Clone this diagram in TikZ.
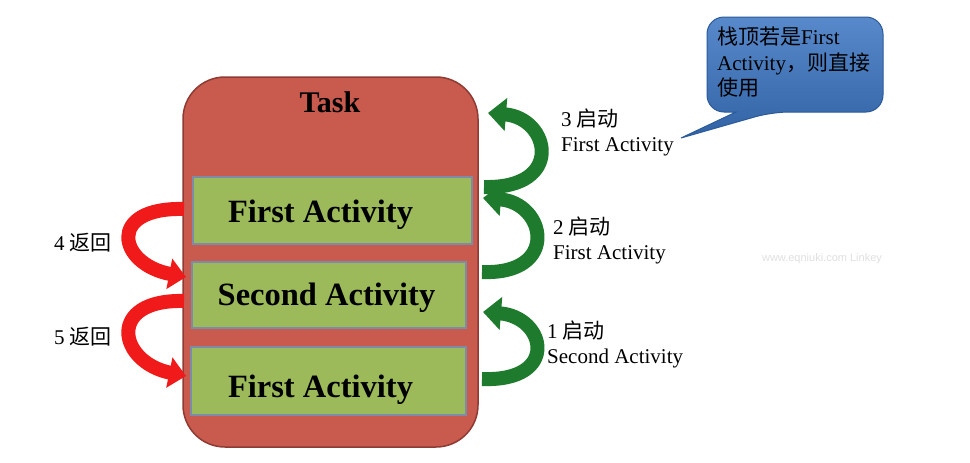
\documentclass[tikz,border=0pt]{standalone}
\usepackage{fontspec}
\setmainfont{Liberation Serif}
\newfontfamily\cjk{Noto Sans CJK SC}
\newfontfamily\wmfont{Liberation Sans}
\usetikzlibrary{arrows.meta}
\definecolor{taskred}{HTML}{C85A4E}
\definecolor{taskborder}{HTML}{8E3B33}
\definecolor{actgreen}{HTML}{9CBA5A}
\definecolor{actborder}{HTML}{7C8CA6}
\definecolor{arrgreen}{HTML}{1E7A2C}
\definecolor{arrred}{HTML}{F01A1A}
\definecolor{callblue}{HTML}{3A74C2}
\definecolor{callborder}{HTML}{2B5A98}
\tikzset{
  taskbox/.style={draw=taskborder, line width=1.5pt, fill=taskred, rounded corners=42pt, minimum width=295pt, minimum height=370pt},
  actbox/.style={draw=actborder, line width=1.5pt, fill=actgreen, minimum height=67pt, inner sep=0pt},
  acttext/.style={inner sep=0pt, anchor=base, font=\fontsize{32.5}{36}\selectfont\bfseries},
  sidelbl/.style={anchor=west, align=left, inner sep=0pt, font=\fontsize{21}{25}\selectfont},
  greenarr/.style={draw=arrgreen, line width=14pt, -{Triangle[width=32pt,length=18pt]}},
  redarr/.style={draw=arrred, line width=14pt, -{Triangle[width=30pt,length=17pt]}},
  calltext/.style={anchor=north west, align=left, inner sep=0pt, font=\fontsize{21}{25.5}\selectfont}
}
\begin{document}
\begin{tikzpicture}[x=1pt,y=-1pt]
\useasboundingbox (0,0) rectangle (970,463);
\fill[white] (0,0) rectangle (970,463);

% Task container
\node[taskbox] (task) at (330.5,262) {};
\node[font=\fontsize{30}{34}\selectfont\bfseries, inner sep=0pt] (tasklbl) at (330,102) {Task};

% Activity boxes
\node[actbox, minimum width=279pt] (a1) at (332.5,210.5) {};
\node[actbox, minimum width=274pt, minimum height=66pt] (a2) at (329,295) {};
\node[actbox, minimum width=275pt, minimum height=68pt] (a3) at (328.5,381) {};
\node[acttext] (a1t) at (320.5,222) {First Activity};
\node[acttext] (a2t) at (326.5,305) {Second Activity};
\node[acttext] (a3t) at (320.5,397) {First Activity};

% arrow end points
\coordinate (t3) at (484,187);
\coordinate (h3) at (488,113);
\coordinate (t2) at (482,272);
\coordinate (h2) at (483,198);
\coordinate (t1) at (482,379);
\coordinate (h1) at (483,312);
\coordinate (t4) at (184,209);
\coordinate (h4) at (186,277);
\coordinate (t5) at (184,301);
\coordinate (h5) at (186,376);

% green arrows (right)
\draw[greenarr] (t3) .. controls (565,189) and (550,118) .. (h3);
\draw[greenarr] (t2) .. controls (560,275) and (546,203) .. (h2);
\draw[greenarr] (t1) .. controls (560,382) and (546,317) .. (h1);

% red arrows (left)
\draw[redarr] (t4) .. controls (106,207) and (118,264) .. (h4);
\draw[redarr] (t5) .. controls (106,299) and (118,362) .. (h5);

% side labels
\node[sidelbl] (l3) at (561,132) {3 {\cjk 启动}\\First Activity};
\node[sidelbl] (l2) at (553,240) {2 {\cjk 启动}\\First Activity};
\node[sidelbl] (l1) at (547,344.5) {1 {\cjk 启动}\\Second Activity};
\node[sidelbl] (l4) at (54,243) {4 {\cjk 返回}};
\node[sidelbl] (l5) at (54,337) {5 {\cjk 返回}};

% callout
\coordinate (ctip) at (681,138);
\path[top color=callblue!85!white, bottom color=callblue!85!black, draw=callborder, line width=1pt]
  (736,112) [rounded corners=17pt] -- (707,112) -- (707,17) -- (883,17) -- (883,112) -- (772,112) [sharp corners] -- (ctip) -- cycle;
\node[calltext] (ctext) at (717,27) {{\cjk 栈顶若是}First\\Activity{\cjk ，则直接}\\{\cjk 使用}};

% watermark
\node[font=\wmfont\fontsize{11}{13}\selectfont, text=black!12, inner sep=0pt] (wm) at (822,259) {www.eqniuki.com Linkey};
\end{tikzpicture}
\end{document}
